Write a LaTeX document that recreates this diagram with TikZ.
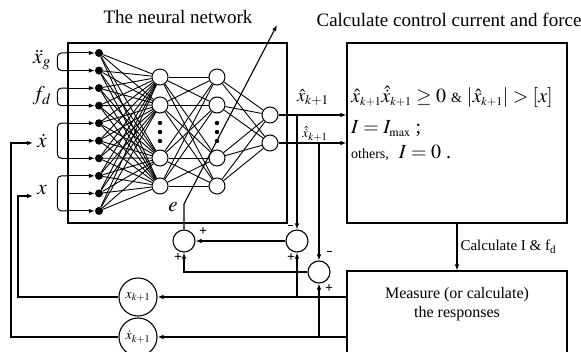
\documentclass[tikz,border=0pt]{standalone}
\usepackage{amsmath}
\usepackage{mathptmx}
\usepackage{fontspec}
\setmainfont{Liberation Serif}
\usetikzlibrary{arrows.meta,positioning,calc}

\begin{document}
\begin{tikzpicture}[
    x=1pt,y=-1pt,
    font=\fontsize{19}{21}\selectfont,
    box/.style={draw,line width=1.2pt,minimum width=220pt,minimum height=180pt,inner sep=0pt},
    neuron/.style={draw,line width=1pt,circle,minimum size=16pt,inner sep=0pt},
    indot/.style={circle,fill,minimum size=8pt,inner sep=0pt},
    sumnode/.style={draw,line width=1.1pt,circle,minimum size=22pt,inner sep=0pt},
    delay/.style={draw,line width=1.1pt,circle,minimum size=38pt,inner sep=0pt,font=\fontsize{14}{16}\selectfont},
    inlabel/.style={font=\fontsize{21}{23}\selectfont,inner sep=0pt},
    sign/.style={font=\fontsize{14}{15}\selectfont\bfseries,inner sep=0pt},
    lawline/.style={anchor=west,inner sep=0pt,font=\fontsize{20}{22}\selectfont},
    link/.style={line width=0.9pt},
    arrow/.style={-{Latex[length=6pt,width=4.5pt]},line width=1.1pt}
]
\useasboundingbox (0,0) rectangle (581,352);

% titles
\node (nntitle) at (178,17) {The neural network};
\node (cctitle) at (449,20) {Calculate control current and force};

% boxes
\node[box,minimum width=219pt] (net) at (177.5,133) {};
\node[box] (ctrl) at (457,133) {};
\node[box,minimum height=85pt,font=\fontsize{16}{19}\selectfont,align=center] (meas) at (457,313.5) {Measure (or calculate)\\the responses\\[4pt]};

% network
\foreach \i in {0,...,9}
  \node[indot] (in\i) at (99,{53+17.55*\i}) {};
\foreach \j/\y in {1/77,2/105,3/158,4/186} {
  \node[neuron] (ha\j) at (160,\y) {};
  \node[neuron] (hb\j) at (217,\y) {};
}
\node[neuron] (o1) at (270,115) {};
\node[neuron] (o2) at (270,143) {};
\foreach \i in {0,...,9}
  \foreach \j in {1,...,4}
    \draw[link] (in\i) -- (ha\j);
\foreach \j in {1,...,4} {
  \foreach \k in {1,...,4}
    \draw[link] (ha\j) -- (hb\k);
  \draw[link] (hb\j) -- (o1);
  \draw[link] (hb\j) -- (o2);
}
\foreach \y in {123,132,141} {
  \fill (160,\y) circle (2.2pt);
  \fill (217,\y) circle (2.2pt);
}

% inputs and their brackets
\foreach \i in {0,...,9}
  \draw[arrow,line width=1pt] (in\i -| net.west) -- (in\i);
\foreach \a/\b in {0/1,2/3,4/6,7/9}
  \draw[line width=1pt,rounded corners=4pt] (in\a -| net.west) -- ++(-10,0) |- (in\b -| net.west);
\node[inlabel] (lxg) at (42,60) {$\ddot{x}_g$};
\node[inlabel] (lfd) at (42,96) {$f_d$};
\node[inlabel] (ldx) at (42,141) {$\dot{x}$};
\node[inlabel] (lx) at (42,190) {$x$};

% outputs
\draw[arrow] (o1) -- (o1 -| ctrl.west);
\draw[arrow] (o2) -- (o2 -| ctrl.west);
\node[font=\fontsize{18}{20}\selectfont] (lxh) at (313,98) {$\hat{x}_{k+1}$};
\node[font=\fontsize{18}{20}\selectfont] (ldxh) at (315,134) {$\scriptstyle\hat{\dot{x}}_{k+1}$};

% control law
\node[lawline] (cond) at (351,97)
  {$\hat{x}_{\scriptscriptstyle k+1}\hat{\dot{x}}_{\scriptscriptstyle k+1}\geq 0$\ {\fontsize{14}{16}\selectfont\&} $\left|\hat{x}_{\scriptscriptstyle k+1}\right|>[x]$};
\node[lawline] (imax) at (351,129)
  {$I=I_{\scriptscriptstyle\max}$ ;};
\node[lawline] (others) at (351,153)
  {{\fontsize{14}{16}\selectfont others,}\ \ $I=0$ .};

\draw[arrow] (ctrl) -- (meas) node[midway,right,inner sep=3pt,font=\fontsize{15}{17}\selectfont] (calc) {Calculate I \& f\textsubscript{d}};

% summing junctions and delays
\node[sumnode] (s1) at (184,241) {};
\node[sumnode] (s2) at (297,241) {};
\node[sumnode] (s3) at (319,272) {};
\node[delay] (xk) at (138,297) {$x_{k+1}$};
\node[delay] (dxk) at (138,337) {$\dot{x}_{k+1}$};

\draw[arrow] (s2 |- o1) -- (s2);
\draw[arrow] (s3 |- o2) -- (s3);
\draw[arrow] (meas.west |- xk) -- (xk);
\draw[arrow] (meas.west |- dxk) -- (dxk);
\draw[arrow] (s2 |- xk) -- (s2);
\draw[arrow] (s3 |- dxk) -- (s3);
\draw[arrow] (s2) -- (s1);
\draw[arrow] (s3) -| (s1);

\node[sign] (p1a) at (203,232) {+};
\node[sign] (p1b) at (178,258) {+};
\node[sign] (m2a) at (290,227) {\rule[3pt]{5pt}{1.4pt}};
\node[sign] (p2b) at (291,258) {+};
\node[sign] (m3a) at (329,253) {\rule[3pt]{5pt}{1.4pt}};
\node[sign] (p3b) at (329,289) {+};

% error to the network
\coordinate (ebend) at (185,204);
\coordinate (etip) at (277,25);
\draw[arrow] (s1) -- (s1 |- ebend) -- (etip);
\node[inlabel] (elab) at (173,207) {$e$};

% feedback of the responses
\coordinate (xin) at (33,196);
\coordinate (dxin) at (33,143);
\draw[arrow] (xk) -| ([xshift=-15pt]xin) -- (xin);
\draw[arrow] (dxk) -| ([xshift=-22pt]dxin) -- (dxin);
\end{tikzpicture}
\end{document}
